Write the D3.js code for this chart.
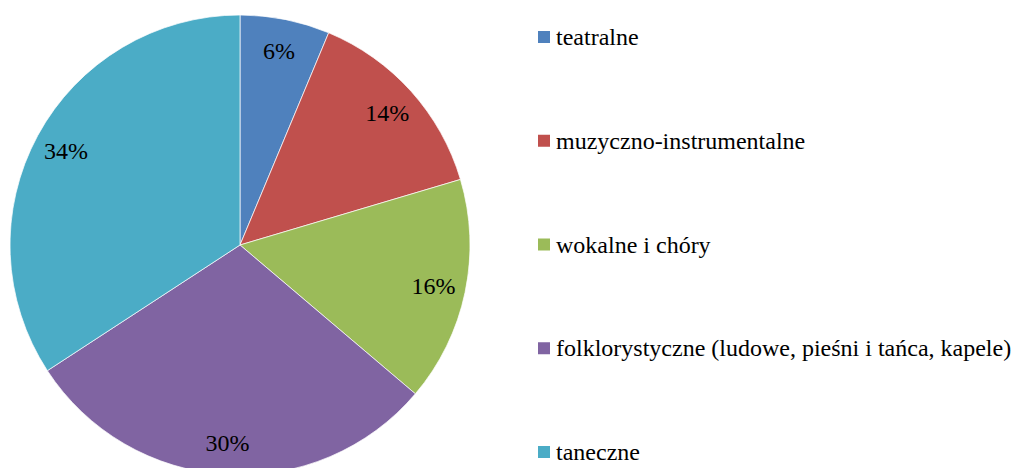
<!DOCTYPE html>
<html>
<head>
<meta charset="utf-8">
<script src="https://cdn.jsdelivr.net/npm/d3@7"></script>
<style>
  body { margin: 0; background: #fff; }
  svg { display: block; }
</style>
</head>
<body>
<svg id="chart"></svg>
<script>
var width = 1021;
var height = 468;
var fontFamily = "'Liberation Serif', 'Times New Roman', Times, Tinos, 'DejaVu Serif', serif";

// data
var categories = ["teatralne", "muzyczno-instrumentalne", "wokalne i chóry",
                  "folklorystyczne (ludowe, pieśni i tańca, kapele)", "taneczne"];
var values = [6.3, 14.1, 15.8, 29.6, 34.2];
var colors = ["#4F81BD", "#C0504D", "#9BBB59", "#8064A2", "#4BACC6"];

var svg = d3.select("#chart").attr("width", width).attr("height", height);

var cx = 240, cy = 245, radius = 230;

var pie = d3.pie().sort(null).value(function(d) { return d; });
var arc = d3.arc().innerRadius(0).outerRadius(radius);
var labelArc = d3.arc().innerRadius(radius * 0.86).outerRadius(radius * 0.86);

var total = d3.sum(values);
var arcs = pie(values);

var g = svg.append("g").attr("transform", "translate(" + cx + "," + cy + ")");

g.selectAll("path")
    .data(arcs)
    .enter()
    .append("path")
    .attr("d", arc)
    .attr("fill", function(d, i) { return colors[i]; })
    .attr("stroke", "#fff")
    .attr("stroke-width", 0.7);

g.selectAll("text")
    .data(arcs)
    .enter()
    .append("text")
    .attr("transform", function(d) { return "translate(" + labelArc.centroid(d) + ")"; })
    .attr("text-anchor", "middle")
    .attr("dy", "0.35em")
    .attr("font-family", fontFamily)
    .attr("font-size", 24)
    .attr("fill", "#000")
    .text(function(d) { return Math.round(d.value / total * 100) + "%"; });

// legend
var y = d3.scalePoint().domain(categories).range([45, 460]);

var legend = svg.append("g").selectAll("g")
    .data(categories)
    .enter()
    .append("g")
    .attr("transform", function(d) { return "translate(538," + y(d) + ")"; });

legend.append("rect")
    .attr("x", 0)
    .attr("y", -14)
    .attr("width", 12)
    .attr("height", 12)
    .attr("fill", function(d, i) { return colors[i]; });

legend.append("text")
    .attr("x", 18)
    .attr("y", 0)
    .attr("font-family", fontFamily)
    .attr("font-size", 24)
    .attr("fill", "#000")
    .text(function(d) { return d; });
</script>
</body>
</html>
